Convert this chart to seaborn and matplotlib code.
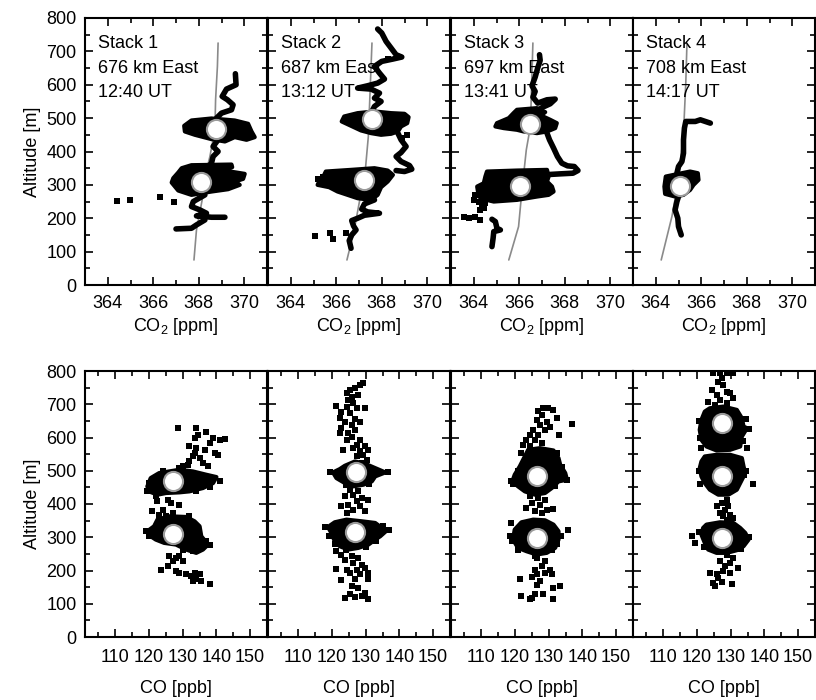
import numpy as np
import pandas as pd
import seaborn as sns
import matplotlib.pyplot as plt
from matplotlib.ticker import MultipleLocator

# ---------------------------
# Panel labels
# ---------------------------
stack_names = ["Stack 1", "Stack 2", "Stack 3", "Stack 4"]
stack_dist = ["676 km East", "687 km East", "697 km East", "708 km East"]
stack_time = ["12:40 UT", "13:12 UT", "13:41 UT", "14:17 UT"]

# ---------------------------
# CO2 profiles (x = CO2 ppm, y = altitude m)
# ---------------------------
# stack 1
co2_1_model = [(367.79, 75), (367.9, 165), (368.15, 255), (368.24, 315), (368.49, 385),
               (368.71, 465), (368.74, 555), (368.82, 655), (368.85, 725)]
co2_1_means = [(368.78, 467), (368.12, 310)]
co2_1_paths = [
    [(369.61, 633), (369.64, 600), (369.22, 587), (369.03, 565), (369.26, 555),
     (369.51, 540), (369.44, 525), (369.0, 515), (368.78, 500)],
    [(368.85, 435), (368.63, 415), (368.85, 400), (368.63, 385), (368.56, 365), (368.42, 355)],
    [(368.27, 270), (367.76, 250), (367.68, 235), (368.05, 225), (368.34, 215),
     (367.9, 207), (368.56, 203), (369.15, 203)],
    [(368.27, 195), (367.9, 180), (367.68, 170), (367.0, 168)],
]
co2_1_blobs = [
    [(367.36, 477), (367.68, 493), (368.56, 499), (369.58, 493), (370.17, 483), (370.32, 460),
     (370.46, 443), (370.1, 435), (369.58, 443), (369.15, 430), (368.56, 437), (367.83, 450),
     (367.39, 460)],
    [(367.25, 350), (367.68, 359), (369.44, 361), (369.47, 353), (368.93, 345), (370.02, 333),
     (369.95, 318), (369.58, 310), (369.8, 300), (369.29, 287), (368.56, 280), (367.68, 270),
     (367.1, 283), (366.81, 307), (366.88, 320), (367.1, 337)],
]
co2_1_dots = [(364.42, 252), (364.98, 255), (366.3, 263), (366.91, 248)]

# stack 2
co2_2_model = [(366.47, 75), (366.79, 165), (367.06, 265), (367.24, 315), (367.41, 445), (367.57, 725)]
co2_2_means = [(367.56, 497), (367.24, 315)]
co2_2_paths = [
    [(367.82, 767), (368.0, 755), (368.19, 730), (368.41, 710), (368.63, 690), (368.88, 683),
     (368.49, 677), (368.0, 670), (367.68, 655), (367.9, 635), (368.12, 617), (367.82, 605),
     (367.38, 597), (366.94, 590), (367.53, 587), (367.9, 575), (367.68, 560), (367.97, 550),
     (367.68, 535), (367.53, 515)],
    [(368.71, 455), (368.85, 435), (369.07, 415), (368.85, 397), (368.63, 385), (368.85, 370),
     (369.22, 358), (369.32, 347), (369.0, 340), (368.63, 343)],
    [(367.68, 255), (367.24, 243), (367.12, 227), (367.38, 219), (367.9, 215), (367.24, 209),
     (366.94, 200), (366.68, 193), (366.76, 177), (366.87, 165), (366.68, 150), (366.57, 133),
     (366.65, 110)],
]
co2_2_blobs = [
    [(366.35, 505), (366.94, 515), (367.68, 520), (368.41, 515), (369.0, 513), (369.18, 503),
     (369.12, 485), (368.85, 475), (368.71, 460), (368.41, 453), (367.97, 450), (367.53, 455),
     (367.09, 463), (366.65, 477), (366.24, 490)],
    [(365.54, 340), (366.65, 345), (367.68, 350), (368.26, 343), (368.49, 330), (368.26, 310),
     (367.97, 293), (367.82, 270), (367.53, 255), (366.94, 260), (366.5, 270), (366.06, 280),
     (365.69, 293), (365.18, 300), (365.25, 310), (365.62, 315), (365.47, 330)],
]
co2_2_dots = [(365.06, 148), (365.71, 155), (365.85, 137), (366.41, 155), (368.29, 677),
              (365.2, 318), (365.4, 325), (369.1, 450), (368.9, 440)]

# stack 3
co2_3_model = [(365.54, 75), (365.97, 175), (366.12, 285), (366.31, 405), (366.49, 475), (366.6, 725)]
co2_3_means = [(366.46, 483), (366.02, 298)]
co2_3_paths = [
    [(366.89, 690), (366.92, 673), (366.81, 650), (366.7, 623), (366.56, 597), (366.7, 580),
     (366.6, 563), (366.81, 545), (367.22, 555), (367.58, 557), (367.36, 543), (367.04, 533),
     (366.81, 523)],
    [(367.22, 455), (367.33, 435), (367.51, 410), (367.68, 385), (367.87, 365), (368.12, 357),
     (368.42, 355), (368.58, 343), (368.36, 335), (367.8, 333), (367.29, 331)],
    [(364.8, 197), (364.95, 190), (365.02, 170), (365.17, 165), (364.88, 160), (364.85, 140),
     (364.8, 115)],
]
co2_3_blobs = [
    [(365.9, 525), (366.78, 530), (367.14, 518), (366.95, 508), (367.36, 495), (367.65, 485),
     (367.58, 470), (367.22, 460), (366.78, 455), (366.19, 460), (365.9, 465), (365.32, 470),
     (364.95, 475), (365.02, 485), (365.54, 500), (365.75, 515)],
    [(364.58, 340), (365.9, 343), (367.22, 345), (367.29, 325), (367.22, 310), (367.44, 295),
     (367.51, 280), (367.29, 270), (366.78, 265), (365.9, 255), (364.88, 250), (364.44, 257),
     (364.22, 265), (364.15, 295), (364.44, 305), (364.51, 325)],
]
co2_3_dots = [(364.07, 270), (364.03, 255), (364.22, 250), (364.37, 240), (364.51, 245),
              (364.44, 230), (364.29, 225), (363.56, 205), (363.78, 200), (364.07, 205),
              (364.29, 195)]

# stack 4
co2_4_model = [(364.24, 75), (364.71, 205), (365.0, 315), (365.22, 455), (365.32, 605), (365.37, 720)]
co2_4_means = [(365.07, 298)]
co2_4_paths = [
    [(366.4, 485), (365.96, 495), (365.74, 490), (365.32, 490), (365.26, 470), (365.22, 435),
     (365.22, 395), (365.15, 370), (365.0, 355), (364.93, 335)],
    [(365.0, 265), (364.93, 250), (364.85, 225), (364.97, 200), (365.0, 175), (365.12, 150)],
]
co2_4_blobs = [
    [(364.44, 325), (365.0, 333), (365.51, 340), (365.85, 335), (365.88, 315), (365.66, 300),
     (365.51, 285), (365.22, 270), (364.85, 265), (364.41, 273), (364.38, 295)],
]
co2_4_dots = []

# ---------------------------
# CO profiles (x = CO ppb, y = altitude m)
# ---------------------------
co_1_means = [(127, 468), (127, 310)]
co_1_blobs = [
    [(120.5, 478), (123, 493), (129, 503), (133, 498), (137, 488), (140, 481), (139, 463),
     (136, 448), (132, 438), (129, 435), (125, 433), (122.5, 428), (120, 438), (119.5, 453)],
    [(122.5, 353), (126, 363), (131, 361), (133.5, 348), (135, 333), (135.5, 303), (137.5, 278),
     (136, 263), (134, 253), (131, 263), (128, 278), (124.5, 283), (122, 293), (120.5, 303),
     (119.5, 318), (121.5, 333)],
]
co_1_dots = [(128.5, 630), (134, 628), (137, 618), (134.5, 608), (133.5, 598), (139, 598),
             (141, 593), (142.5, 595), (138, 583), (132, 573), (134, 568), (136.5, 563),
             (139.5, 553), (140.5, 548), (133, 543), (135, 538), (132, 528), (136, 523),
             (130, 513), (129, 508), (131.5, 518), (137.5, 513), (133.5, 553),
             (119.5, 440), (120, 463), (141, 470), (138, 450), (134, 440), (122, 425), (124, 500),
             (122.5, 408), (125.5, 413), (126.5, 403), (129, 398), (124, 383), (121, 378),
             (127, 373), (125, 363), (123, 368),
             (119, 318), (120, 305), (137, 290), (138, 278), (133, 258), (130, 262), (123, 355),
             (132, 365),
             (126, 243), (128, 238), (129, 243), (127, 228), (123.5, 203), (125.5, 213),
             (128, 198), (129, 193), (131, 188), (132.5, 183), (133.5, 193), (135, 188),
             (134, 173), (133, 168), (135.5, 168), (138, 158), (130, 228)]

co_2_means = [(127, 495), (126.8, 315)]
co_2_blobs = [
    [(123.8, 515), (126.8, 528), (129.8, 521), (132.8, 508), (135.8, 495), (132.8, 483),
     (131.8, 468), (129.3, 458), (126.3, 453), (123.8, 463), (121.3, 478), (120.3, 495),
     (122.3, 505)],
    [(120.8, 345), (124.3, 353), (128.8, 348), (132.8, 343), (134.8, 328), (136.3, 321),
     (134.3, 303), (132.8, 293), (130.8, 278), (127.8, 268), (124.8, 263), (122.3, 273),
     (120.8, 288), (119.8, 313), (118.8, 331)],
]
co_2_dots = [(129.3, 765), (128.3, 758), (126.8, 748), (125.3, 743), (124.3, 733), (125.8, 723),
             (127.8, 728), (124.8, 713), (126.3, 703), (124.3, 693), (121.3, 696), (127.3, 688),
             (129.8, 688), (122.8, 678), (125.3, 673), (122.3, 658), (126.8, 655), (123.8, 648),
             (128.3, 648), (125.8, 638), (122.8, 628), (126.8, 623), (124.8, 613), (122.3, 613),
             (125.8, 603), (128.3, 593), (124.3, 593), (127.3, 578), (129.8, 573), (126.3, 568),
             (128.3, 558), (130.8, 563), (123.3, 563), (129.3, 548), (127.3, 543), (130.3, 533),
             (128.8, 523),
             (119.5, 495), (136.5, 495), (131, 460), (124, 458), (130, 520),
             (125.3, 443), (127.8, 438), (126.3, 428), (123.8, 423), (128.8, 418), (127.3, 408),
             (124.8, 398), (122.8, 393), (128.3, 393), (126.3, 383), (129.8, 378), (124.3, 373),
             (130.8, 411),
             (118, 330), (119, 305), (137, 322), (133, 290), (121, 280), (124, 262), (130, 272),
             (135, 335),
             (121.3, 258), (122.8, 248), (125.8, 243), (123.8, 233), (127.8, 238), (126.3, 223),
             (128.8, 218), (121.3, 205), (124.3, 203), (127.3, 203), (129.8, 208), (130.8, 193),
             (125.3, 193), (128.3, 188), (122.8, 171), (126.8, 173), (130.8, 173), (125.8, 153),
             (127.8, 148), (129.8, 133), (128.8, 123), (130.8, 115), (123.8, 118), (125.3, 128),
             (126.8, 120)]

co_3_means = [(126.6, 485), (126.6, 298)]
co_3_blobs = [
    [(123.9, 563), (127.4, 568), (131.4, 561), (132.9, 538), (133.4, 518), (134.9, 493),
     (135.4, 473), (132.9, 468), (130.9, 448), (128.9, 433), (125.9, 428), (122.9, 438),
     (120.9, 453), (119.2, 468), (119.9, 488), (121.4, 513), (122.9, 543)],
    [(121.9, 345), (125.4, 353), (128.9, 351), (131.4, 338), (132.9, 318), (132.9, 293),
     (131.9, 268), (129.4, 253), (126.4, 248), (123.4, 258), (120.9, 268), (119.4, 293),
     (119.9, 323)],
]
co_3_dots = [(126.9, 680), (128.4, 688), (129.9, 690), (131.4, 683), (132.4, 658), (127.9, 668),
             (126.4, 653), (129.4, 648), (130.4, 631), (127.4, 638), (125.4, 623), (128.9, 623),
             (124.4, 608), (132.9, 608), (126.9, 608), (123.4, 593), (122.4, 578), (125.9, 593),
             (127.9, 583), (121.9, 553), (124.4, 573), (136.9, 640), (132.4, 553), (131.4, 543),
             (118.7, 470), (119.5, 460), (135.5, 473), (134, 510), (121, 500), (132, 455),
             (124.4, 423), (126.9, 418), (128.9, 413), (124.9, 403), (127.4, 398), (123.4, 388),
             (129.4, 383), (131.4, 385), (125.9, 378), (127.9, 373), (118.9, 343), (135.6, 323),
             (118.5, 305), (119, 290), (133.5, 305), (132.5, 280), (121, 262), (126, 245),
             (131, 262),
             (126.4, 238), (128.9, 228), (127.9, 213), (125.9, 203), (130.4, 203), (124.9, 181),
             (126.4, 188), (128.9, 193), (130.9, 188), (121.4, 173), (127.4, 168), (126.4, 155),
             (131.4, 148), (133.4, 153), (121.9, 123), (124.9, 118), (125.9, 128), (128.4, 128),
             (131.4, 115), (124.4, 115)]

co_4_means = [(127.3, 645), (127.3, 485), (127.3, 298)]
co_4_blobs = [
    [(123.8, 688), (127.8, 693), (131.8, 683), (133.3, 658), (133.8, 633), (134.8, 628),
     (133.3, 603), (132.8, 573), (129.8, 563), (125.8, 561), (122.8, 573), (121.3, 593),
     (120.8, 623), (121.3, 653), (122.3, 678)],
    [(122.3, 543), (125.8, 548), (129.8, 548), (133.3, 538), (133.8, 513), (134.3, 493),
     (133.3, 473), (131.8, 443), (129.3, 428), (126.3, 428), (123.8, 443), (122.3, 463),
     (121.3, 483), (120.8, 508), (121.3, 528)],
    [(122.8, 338), (126.8, 345), (130.8, 343), (132.8, 328), (134.3, 313), (135.3, 293),
     (133.8, 273), (131.8, 261), (128.8, 253), (125.8, 253), (123.3, 263), (122.3, 283),
     (121.3, 308), (121.8, 328)],
]
co_4_dots = [(124.8, 795), (126.8, 793), (128.8, 793), (130.8, 795), (127.3, 778), (126.3, 768),
             (127.8, 758), (124.3, 743), (128.8, 738), (129.8, 733), (125.8, 728), (123.3, 708),
             (126.8, 713), (130.8, 718), (125.3, 698), (128.8, 703),
             (120.5, 650), (121, 600), (134.5, 655), (133.5, 590), (120.5, 500), (134.5, 500),
             (121, 460), (120.5, 315), (135.5, 300), (133, 265), (122, 270),
             (121.3, 568), (134.8, 568), (135.3, 625), (136.6, 460), (134.0, 488),
             (128.8, 413), (127.3, 403), (125.8, 393), (128.3, 383), (129.3, 393), (126.8, 373),
             (129.8, 368), (130.8, 358), (128.8, 353), (127.8, 363),
             (118.6, 303), (119.3, 283),
             (128.8, 248), (130.8, 238), (126.8, 228), (129.8, 223), (128.3, 213), (132.3, 208),
             (123.8, 193), (125.8, 188), (127.8, 198), (129.8, 193), (126.3, 178), (124.8, 163),
             (127.3, 165), (130.3, 158), (125.3, 153)]

co2_panels = [
    (co2_1_model, co2_1_means, co2_1_paths, co2_1_blobs, co2_1_dots),
    (co2_2_model, co2_2_means, co2_2_paths, co2_2_blobs, co2_2_dots),
    (co2_3_model, co2_3_means, co2_3_paths, co2_3_blobs, co2_3_dots),
    (co2_4_model, co2_4_means, co2_4_paths, co2_4_blobs, co2_4_dots),
]
co_panels = [
    (co_1_means, co_1_blobs, co_1_dots),
    (co_2_means, co_2_blobs, co_2_dots),
    (co_3_means, co_3_blobs, co_3_dots),
    (co_4_means, co_4_blobs, co_4_dots),
]

# ---------------------------
# Style
# ---------------------------
sns.set_style("ticks")
plt.rcParams['font.family'] = ['Liberation Sans', 'DejaVu Sans']
plt.rcParams['mathtext.fontset'] = 'custom'
plt.rcParams['mathtext.rm'] = 'Liberation Sans'
plt.rcParams['mathtext.it'] = 'Liberation Sans'
plt.rcParams['text.color'] = 'black'
plt.rcParams['axes.labelcolor'] = 'black'
FS = 13


def to_df(pts):
    return pd.DataFrame(pts, columns=['x', 'alt'])


def style_axes(ax, first, xmajor, xminor, pad):
    ax.set_ylim(0, 800)
    ax.yaxis.set_major_locator(MultipleLocator(100))
    ax.yaxis.set_minor_locator(MultipleLocator(50))
    ax.xaxis.set_major_locator(MultipleLocator(xmajor))
    ax.xaxis.set_minor_locator(MultipleLocator(xminor))
    ax.tick_params(which='both', direction='in', top=True, right=True, width=1.2,
                   labelsize=FS, colors='black')
    ax.tick_params(which='major', length=6)
    ax.tick_params(which='minor', length=3.5)
    ax.tick_params(axis='x', pad=pad)
    ax.tick_params(axis='y', pad=6, labelleft=first)
    for s in ax.spines.values():
        s.set_linewidth(1.5)
        s.set_color('black')
    if first:
        ax.set_ylabel("Altitude [m]", fontsize=FS, labelpad=4)
    else:
        ax.set_ylabel("")


def draw_dots(ax, pts, size=15):
    if len(pts) == 0:
        return
    sns.scatterplot(data=to_df(pts), x='x', y='alt', marker='s', s=size, color='black',
                    linewidth=0, ax=ax, zorder=4, legend=False)


def draw_blobs(ax, blobs):
    for b in blobs:
        df = to_df(b)
        ax.fill(df['x'], df['alt'], facecolor='black', edgecolor='black', lw=3,
                joinstyle='round', zorder=4)


def draw_means(ax, pts):
    sns.scatterplot(data=to_df(pts), x='x', y='alt', marker='o', s=190, facecolor='white',
                    edgecolor='#9a9a9a', linewidth=1.5, ax=ax, zorder=6, legend=False)


fig = plt.figure(figsize=(8.16, 7.0), dpi=100)
lefts = [85, 268, 451, 633]

# top row: CO2
for i, (model, means, paths, blobs, dots) in enumerate(co2_panels):
    ax = fig.add_axes([lefts[i] / 816, 1 - 285 / 700, 182 / 816, 267 / 700])
    sns.lineplot(data=to_df(model), x='x', y='alt', sort=False, estimator=None,
                 color='#8a8a8a', lw=1.2, ax=ax, zorder=3)
    for p in paths:
        sns.lineplot(data=to_df(p), x='x', y='alt', sort=False, estimator=None,
                     color='black', lw=4, ax=ax, zorder=4,
                     solid_capstyle='round', solid_joinstyle='round')
    draw_blobs(ax, blobs)
    draw_dots(ax, dots, size=18)
    draw_means(ax, means)
    ax.set_xlim(363, 371)
    style_axes(ax, i == 0, 2, 1, 7)
    ax.set_xlabel("CO$_\\mathregular{2}$ [ppm]", fontsize=FS, labelpad=3)
    ax.text(0.07, 0.935, stack_names[i] + "\n" + stack_dist[i] + "\n" + stack_time[i],
            transform=ax.transAxes, ha='left', va='top', fontsize=FS, linespacing=1.55,
            zorder=7)

# bottom row: CO
for i, (means, blobs, dots) in enumerate(co_panels):
    ax = fig.add_axes([lefts[i] / 816, 1 - 637 / 700, 182 / 816, 266 / 700])
    draw_blobs(ax, blobs)
    draw_dots(ax, dots, size=18)
    draw_means(ax, means)
    ax.set_xlim(101, 155)
    ax.set_xticks([110, 120, 130, 140, 150])
    style_axes(ax, i == 0, 10, 5, 9)
    ax.set_xlabel("CO [ppb]", fontsize=FS, labelpad=10)

plt.savefig("out.png", dpi=100)
plt.close()
